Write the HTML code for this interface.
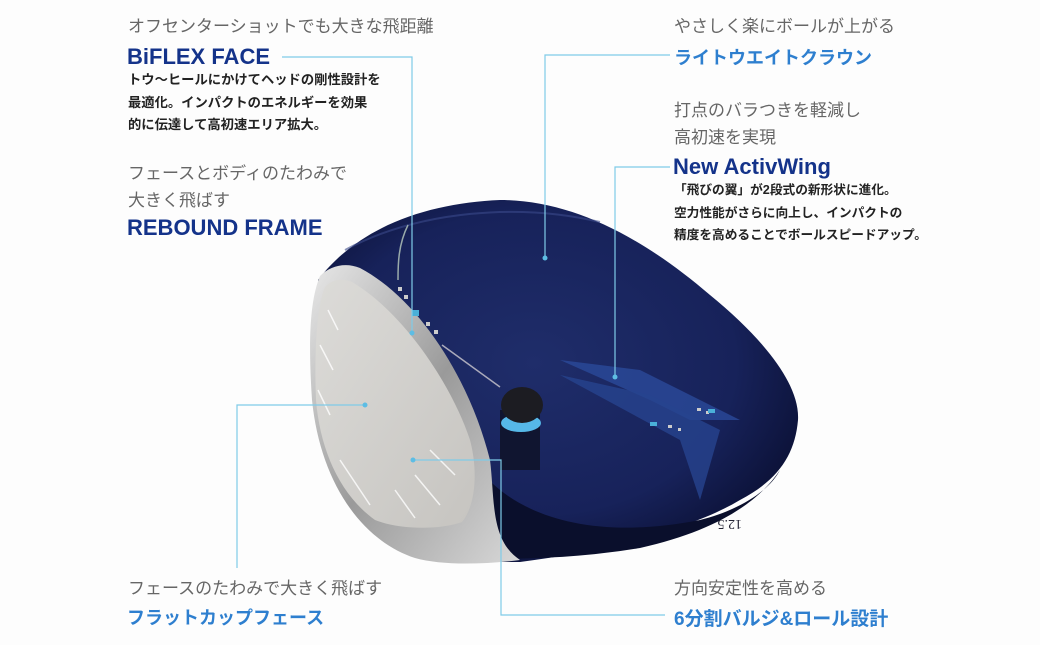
<!DOCTYPE html>
<html><head><meta charset="utf-8"><style>
body{margin:0;width:1040px;height:645px;background:#fdfdfd;overflow:hidden;position:relative;font-family:"Liberation Sans","Noto Sans CJK JP",sans-serif}
.t{position:absolute;white-space:nowrap}
.g{color:#666;font-size:17px}
.n{color:#14338a;font-size:22px;font-weight:bold}
.b{color:#2e7fcf;font-size:18px;font-weight:bold}
.k{color:#222;font-size:13.3px;font-weight:bold;line-height:22.5px}
svg{position:absolute;left:0;top:0}
</style></head><body>
<svg width="1040" height="645">
<defs>
<radialGradient id="crown" cx="0.45" cy="0.45" r="0.6">
<stop offset="0" stop-color="#1f2d6a"/><stop offset="0.7" stop-color="#17225a"/><stop offset="1" stop-color="#0c1238"/></radialGradient>
<linearGradient id="chrome" x1="0" y1="0" x2="1" y2="1">
<stop offset="0" stop-color="#e8e8e8"/><stop offset="0.5" stop-color="#9a9a9a"/><stop offset="1" stop-color="#d8d8d8"/></linearGradient>
<linearGradient id="face" x1="0" y1="0" x2="1" y2="1">
<stop offset="0" stop-color="#dcdbd8"/><stop offset="1" stop-color="#c6c4c0"/></linearGradient>
</defs>
<path d="M318,280 C360,225 430,203 500,200 C570,200 640,235 710,295 C765,340 800,385 798,420 C795,455 778,480 740,500 C690,530 600,552 520,562 L440,562 Z" fill="url(#crown)"/>
<path d="M345,250 C420,210 520,203 600,222" stroke="#3a4a8a" stroke-width="2" fill="none" opacity="0.6"/>
<path d="M560,360 L640,370 L700,400 L740,420 L690,420 L650,400 Z" fill="#2a4a9a" opacity="0.8"/>
<path d="M560,375 L650,395 L720,430 L700,500 L680,440 Z" fill="#27438f" opacity="0.8"/>
<path d="M480,470 C520,520 600,540 700,520 C740,510 770,490 780,470 C760,500 720,530 640,548 C580,558 520,560 470,558 Z" fill="#0a0f2c"/>
<path d="M320,276 C330,266 345,262 360,268 C420,300 470,380 490,460 C495,500 490,540 520,560 C480,565 440,565 415,558 C360,540 320,480 312,400 C308,340 310,300 320,276 Z" fill="url(#chrome)"/>
<path d="M325,287 C332,279 342,278 352,282 C400,310 450,380 470,440 C478,470 476,505 462,522 C440,530 400,530 375,520 C340,495 320,450 316,400 C314,350 317,305 325,287 Z" fill="url(#face)"/>
<g stroke="#fff" stroke-width="1.5" opacity="0.8">
<line x1="328" y1="310" x2="338" y2="330"/><line x1="320" y1="345" x2="333" y2="370"/><line x1="318" y1="390" x2="330" y2="415"/>
<line x1="430" y1="450" x2="455" y2="475"/><line x1="415" y1="475" x2="440" y2="505"/><line x1="395" y1="490" x2="415" y2="518"/><line x1="340" y1="460" x2="370" y2="505"/>
</g>
<path d="M500,410 L540,410 L540,470 L500,470 Z" fill="#101530"/>
<ellipse cx="521" cy="423" rx="20" ry="9" fill="#56b8e8"/>
<ellipse cx="522" cy="405" rx="21" ry="18" fill="#1c1c22"/>
<path d="M408,225 C398,245 398,265 398,280" stroke="#9aa" stroke-width="1.5" fill="none"/>
<line x1="442" y1="345" x2="500" y2="387" stroke="#aab" stroke-width="1.5"/>
<g fill="#ccc"><rect x="398" y="287" width="4" height="4"/><rect x="404" y="295" width="4" height="4"/><rect x="426" y="322" width="4" height="4"/><rect x="434" y="330" width="4" height="4"/>
<rect x="697" y="408" width="4" height="3"/><rect x="706" y="411" width="3" height="3"/><rect x="668" y="425" width="4" height="3"/><rect x="678" y="428" width="3" height="3"/></g>
<rect x="412" y="310" width="7" height="6" fill="#4ab0d8"/><rect x="708" y="409" width="7" height="4" fill="#4ab0d8"/><rect x="650" y="422" width="7" height="4" fill="#4ab0d8"/>
<text x="0" y="0" transform="translate(742,520) rotate(180)" font-size="14" fill="#223" font-family="Liberation Serif,serif">12.5</text>
<g stroke="#7fcbe8" stroke-width="1.2" fill="none">
<polyline points="282,57 412,57 412,333"/>
<polyline points="670,55 545,55 545,258"/>
<polyline points="670,167 615,167 615,377"/>
<polyline points="237,568 237,405 363,405"/>
<polyline points="413,460 501,460 501,615 665,615"/>
</g>
<g fill="#5dbde4"><circle cx="412" cy="333" r="2.5"/><circle cx="545" cy="258" r="2.5"/><circle cx="615" cy="377" r="2.5"/><circle cx="365" cy="405" r="2.5"/><circle cx="413" cy="460" r="2.5"/></g>
</svg>
<div class="t g" style="left:128px;top:12px">オフセンターショットでも大きな飛距離</div>
<div class="t n" style="left:127px;top:44px">BiFLEX FACE</div>
<div class="k t" style="left:128px;top:69px">トウ～ヒールにかけてヘッドの剛性設計を<br>最適化。インパクトのエネルギーを効果<br>的に伝達して高初速エリア拡大。</div>
<div class="t g" style="left:128px;top:160px;line-height:27px">フェースとボディのたわみで<br>大きく飛ばす</div>
<div class="t n" style="left:127px;top:215px">REBOUND FRAME</div>
<div class="t g" style="left:674px;top:12px">やさしく楽にボールが上がる</div>
<div class="t b" style="left:674px;top:44px">ライトウエイトクラウン</div>
<div class="t g" style="left:674px;top:97px;line-height:27px">打点のバラつきを軽減し<br>高初速を実現</div>
<div class="t n" style="left:673px;top:154px">New ActivWing</div>
<div class="k t" style="left:674px;top:179px;font-size:12.7px">「飛びの翼」が2段式の新形状に進化。<br>空力性能がさらに向上し、インパクトの<br>精度を高めることでボールスピードアップ。</div>
<div class="t g" style="left:128px;top:574px">フェースのたわみで大きく飛ばす</div>
<div class="t b" style="left:127px;top:604px">フラットカップフェース</div>
<div class="t g" style="left:674px;top:574px">方向安定性を高める</div>
<div class="t b" style="left:674px;top:604px;font-size:19px">6分割バルジ&amp;ロール設計</div>
</body></html>
